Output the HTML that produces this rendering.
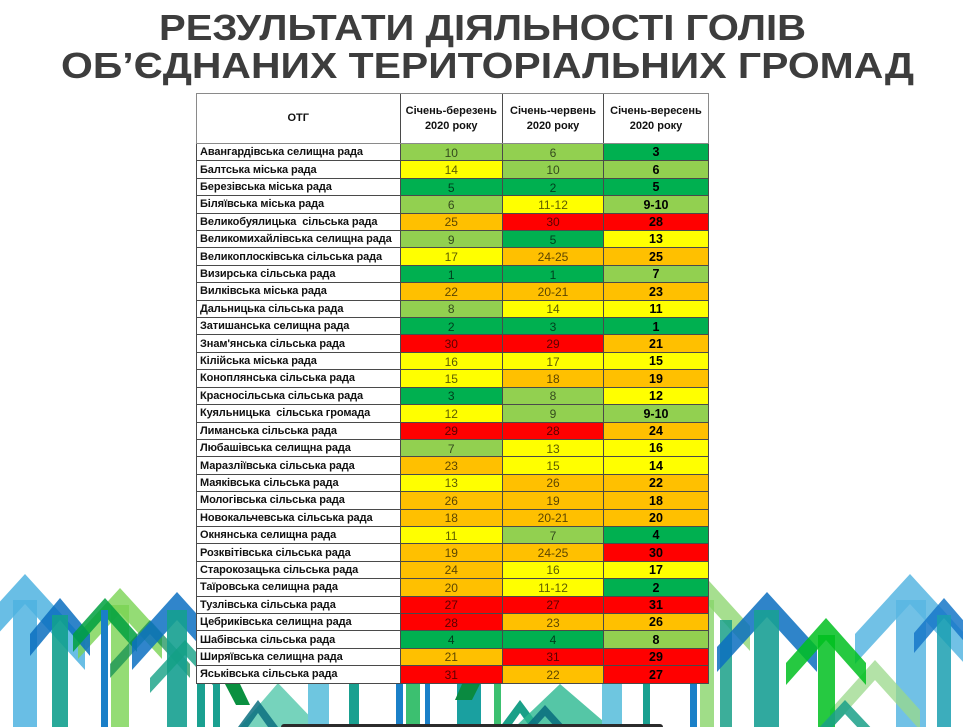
<!DOCTYPE html>
<html>
<head>
<meta charset="utf-8">
<style>
html,body{margin:0;padding:0;background:#fff;}
body{width:963px;height:727px;position:relative;overflow:hidden;font-family:"Liberation Sans",Arial,sans-serif;}
#bg{position:absolute;left:0;top:0;}
#title{position:absolute;left:0;top:0;}
#t{position:absolute;left:196px;top:93px;width:513px;height:591px;box-sizing:border-box;padding:1px;background:#4a4a4a;display:grid;grid-template-columns:202.5px 101.5px 100px 104px;grid-template-rows:49px repeat(31,16.42px);gap:1px;}
#hdr{position:absolute;left:196px;top:93px;width:513px;height:51px;box-sizing:border-box;border:1px solid #8a8a8a;}
#t div{display:flex;align-items:center;justify-content:center;font-size:12px;color:rgba(0,0,0,.65);overflow:hidden;white-space:nowrap;line-height:1;padding-top:1px;box-sizing:border-box;}
#t div.n{justify-content:flex-start;padding-left:3px;background:#fff;font-weight:bold;font-size:11px;color:#111;letter-spacing:-0.1px;}
#t div.h{background:#fff;font-weight:bold;font-size:11px;color:#111;text-align:center;line-height:15px;padding-top:0;}
#t div.b{font-weight:bold;color:#000;font-size:12.5px;}
.dg{background:#00b050;}
.lg{background:#92d050;}
.y{background:#ffff00;}
.o{background:#ffc000;}
.r{background:#ff0000;}
</style>
</head>
<body>
<svg id="bg" width="963" height="727" viewBox="0 0 963 727">
  <g>
    <polygon points="-35,640 25,574 85,640 85,670 25,604 -35,670" fill="#4fb3e0" fill-opacity=".85"/>
    <rect x="13" y="600" width="24" height="127" fill="#4fb3e0" fill-opacity=".85"/>
    <polygon points="78,634 120,588 162,634 162,659 120,613 78,659" fill="#79d352" fill-opacity=".8"/>
    <rect x="111" y="605" width="18" height="122" fill="#79d352" fill-opacity=".8"/>
    <polygon points="30,634 60,598 90,634 90,656 60,620 30,656" fill="#0b6fbf" fill-opacity=".85"/>
    <rect x="52" y="615" width="16" height="112" fill="#12a08e" fill-opacity=".9"/>
    <polygon points="73,634 105,598 137,634 137,652 105,616 73,652" fill="#00a040" fill-opacity=".85"/>
    <rect x="101" y="610" width="7" height="117" fill="#1a7fc8"/>
    <polygon points="110,664 150,620 190,664 190,678 150,634 110,678" fill="#0a8a50" fill-opacity=".7"/>
    <polygon points="132,642 177,592 222,642 222,670 177,620 132,670" fill="#0c70c2" fill-opacity=".85"/>
    <rect x="167" y="610" width="20" height="117" fill="#15a090" fill-opacity=".9"/>
    <polygon points="150,678 185,640 220,678 220,693 185,655 150,693" fill="#13a085" fill-opacity=".8"/>
  </g>
  <g>
    <polygon points="630,626 690,560 750,626 750,651 690,585 630,651" fill="#88d46a" fill-opacity=".75"/>
    <rect x="700" y="600" width="14" height="127" fill="#88d46a" fill-opacity=".8"/>
    <rect x="720" y="620" width="12" height="107" fill="#1aa088" fill-opacity=".85"/>
    <polygon points="855,634 910,574 965,634 965,664 910,604 855,664" fill="#58b6e2" fill-opacity=".85"/>
    <rect x="896" y="600" width="30" height="127" fill="#58b6e2" fill-opacity=".85"/>
    <polygon points="717,647 767,592 817,647 817,672 767,617 717,672" fill="#0b6fbf" fill-opacity=".85"/>
    <rect x="754" y="610" width="25" height="117" fill="#1aa095" fill-opacity=".9"/>
    <polygon points="830,710 875,660 920,710 920,730 875,680 830,730" fill="#9ad88a" fill-opacity=".75"/>
    <polygon points="786,663 826,618 866,663 866,685 826,640 786,685" fill="#00c020" fill-opacity=".85"/>
    <rect x="818" y="635" width="17" height="92" fill="#00c020" fill-opacity=".85"/>
    <polygon points="914,633 944,598 974,633 974,653 944,618 914,653" fill="#1677c8" fill-opacity=".85"/>
    <rect x="937" y="615" width="14" height="112" fill="#1a9fb0" fill-opacity=".85"/>
    <polygon points="815,732 845,700 875,732 875,746 845,714 815,746" fill="#1aa088" fill-opacity=".85"/>
  </g>
  <g>
    <rect x="197" y="680" width="8" height="47" fill="#1aa090"/>
    <rect x="213" y="680" width="7" height="47" fill="#1aa090"/>
    <polygon points="240,727 278,683 320,727" fill="#3cc0a0" fill-opacity=".7"/>
    <polygon points="225,684 240,684 250,705 236,705" fill="#0a9040"/>
    <polygon points="238,727 258,700 278,727 268,727 258,713 248,727" fill="#0c7080" fill-opacity=".85"/>
    <rect x="308" y="680" width="21" height="47" fill="#6ec6e0"/>
    <rect x="349" y="680" width="10" height="47" fill="#1aa090"/>
    <rect x="396" y="680" width="7" height="47" fill="#1a80c8"/>
    <rect x="406" y="680" width="14" height="47" fill="#3cc070"/>
    <rect x="425" y="680" width="5" height="47" fill="#1a80c8"/>
    <rect x="457" y="680" width="24" height="47" fill="#1aa0a0"/>
    <polygon points="462,684 480,684 472,700 455,700" fill="#0a8a40"/>
    <rect x="494" y="680" width="7" height="47" fill="#3cc070"/>
    <polygon points="500,727 520,700 540,727 530,727 520,713 510,727" fill="#1aa088"/>
    <polygon points="515,727 560,684 610,727" fill="#2ab890" fill-opacity=".8"/>
    <polygon points="525,727 545,705 565,727 555,727 545,716 535,727" fill="#0c7080" fill-opacity=".9"/>
    <rect x="602" y="680" width="20" height="47" fill="#6ec6e0"/>
    <rect x="643" y="680" width="7" height="47" fill="#1aa090"/>
    <rect x="690" y="680" width="7" height="47" fill="#1a80c8"/>
  </g>
  <rect x="281" y="724" width="382" height="6" rx="3" fill="#2b2b2b"/>
</svg>

<svg id="title" width="963" height="92" viewBox="0 0 963 92">
  <text x="159" y="40" font-family="Liberation Sans, Arial, sans-serif" font-weight="bold" font-size="36" fill="#3d3d3d" textLength="647" lengthAdjust="spacingAndGlyphs">РЕЗУЛЬТАТИ ДІЯЛЬНОСТІ ГОЛІВ</text>
  <text x="61" y="78" font-family="Liberation Sans, Arial, sans-serif" font-weight="bold" font-size="36" fill="#3d3d3d" textLength="853" lengthAdjust="spacingAndGlyphs">ОБ’ЄДНАНИХ ТЕРИТОРІАЛЬНИХ ГРОМАД</text>
</svg>

<div id="t">
  <div class="h">ОТГ</div>
  <div class="h">Січень-березень<br>2020 року</div>
  <div class="h">Січень-червень<br>2020 року</div>
  <div class="h">Січень-вересень<br>2020 року</div>

  <div class="n">Авангардівська селищна рада</div><div class="lg">10</div><div class="lg">6</div><div class="dg b">3</div>
  <div class="n">Балтська міська рада</div><div class="y">14</div><div class="lg">10</div><div class="lg b">6</div>
  <div class="n">Березівська міська рада</div><div class="dg">5</div><div class="dg">2</div><div class="dg b">5</div>
  <div class="n">Біляївська міська рада</div><div class="lg">6</div><div class="y">11-12</div><div class="lg b">9-10</div>
  <div class="n">Великобуялицька&nbsp; сільська рада</div><div class="o">25</div><div class="r">30</div><div class="r b">28</div>
  <div class="n">Великомихайлівська селищна рада</div><div class="lg">9</div><div class="dg">5</div><div class="y b">13</div>
  <div class="n">Великоплосківська сільська рада</div><div class="y">17</div><div class="o">24-25</div><div class="o b">25</div>
  <div class="n">Визирська сільська рада</div><div class="dg">1</div><div class="dg">1</div><div class="lg b">7</div>
  <div class="n">Вилківська міська рада</div><div class="o">22</div><div class="o">20-21</div><div class="o b">23</div>
  <div class="n">Дальницька сільська рада</div><div class="lg">8</div><div class="y">14</div><div class="y b">11</div>
  <div class="n">Затишанська селищна рада</div><div class="dg">2</div><div class="dg">3</div><div class="dg b">1</div>
  <div class="n">Знам'янська сільська рада</div><div class="r">30</div><div class="r">29</div><div class="o b">21</div>
  <div class="n">Кілійська міська рада</div><div class="y">16</div><div class="y">17</div><div class="y b">15</div>
  <div class="n">Коноплянська сільська рада</div><div class="y">15</div><div class="o">18</div><div class="o b">19</div>
  <div class="n">Красносільська сільська рада</div><div class="dg">3</div><div class="lg">8</div><div class="y b">12</div>
  <div class="n">Куяльницька&nbsp; сільська громада</div><div class="y">12</div><div class="lg">9</div><div class="lg b">9-10</div>
  <div class="n">Лиманська сільська рада</div><div class="r">29</div><div class="r">28</div><div class="o b">24</div>
  <div class="n">Любашівська селищна рада</div><div class="lg">7</div><div class="y">13</div><div class="y b">16</div>
  <div class="n">Маразліївська сільська рада</div><div class="o">23</div><div class="y">15</div><div class="y b">14</div>
  <div class="n">Маяківська сільська рада</div><div class="y">13</div><div class="o">26</div><div class="o b">22</div>
  <div class="n">Мологівська сільська рада</div><div class="o">26</div><div class="o">19</div><div class="o b">18</div>
  <div class="n">Новокальчевська сільська рада</div><div class="o">18</div><div class="o">20-21</div><div class="o b">20</div>
  <div class="n">Окнянська селищна рада</div><div class="y">11</div><div class="lg">7</div><div class="dg b">4</div>
  <div class="n">Розквітівська сільська рада</div><div class="o">19</div><div class="o">24-25</div><div class="r b">30</div>
  <div class="n">Старокозацька сільська рада</div><div class="o">24</div><div class="y">16</div><div class="y b">17</div>
  <div class="n">Таїровська селищна рада</div><div class="o">20</div><div class="y">11-12</div><div class="dg b">2</div>
  <div class="n">Тузлівська сільська рада</div><div class="r">27</div><div class="r">27</div><div class="r b">31</div>
  <div class="n">Цебриківська селищна рада</div><div class="r">28</div><div class="o">23</div><div class="o b">26</div>
  <div class="n">Шабівська сільська рада</div><div class="dg">4</div><div class="dg">4</div><div class="lg b">8</div>
  <div class="n">Ширяївська селищна рада</div><div class="o">21</div><div class="r">31</div><div class="r b">29</div>
  <div class="n">Яськівська сільська рада</div><div class="r">31</div><div class="o">22</div><div class="r b">27</div>
</div>
<div id="hdr"></div>
</body>
</html>
